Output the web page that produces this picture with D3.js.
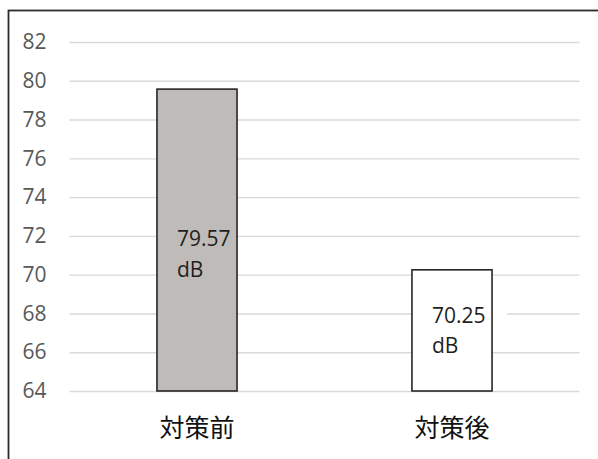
<!DOCTYPE html>
<html>
<head>
<meta charset="utf-8">
<script src="https://cdn.jsdelivr.net/npm/d3@7"></script>
<style>
  html, body { margin: 0; padding: 0; background: #fff; }
  svg { display: block; }
</style>
</head>
<body>
<svg id="chart" width="598" height="459"></svg>
<script>
// Noise level before / after countermeasures
const categories = ["対策前", "対策後"];
const levels = [79.57, 70.25];
const unit = "dB";
const yTicks = [64, 66, 68, 70, 72, 74, 76, 78, 80, 82];

const svg = d3.select("#chart");

// outer frame (right and bottom edges fall outside the view)
svg.append("rect")
  .attr("x", 8.5).attr("y", 10.5)
  .attr("width", 600).attr("height", 470)
  .attr("fill", "#fff")
  .attr("stroke", "#2b2b2b")
  .attr("stroke-width", 1.8);

const plot = { left: 69.5, right: 579.5, top: 42, bottom: 391 };

const y = d3.scaleLinear().domain([64, 82]).range([plot.bottom, plot.top]);
const x = d3.scaleBand()
  .domain(categories)
  .range([plot.left, plot.right])
  .paddingInner(0.686)
  .paddingOuter(0.343);

// y axis with gridlines
const yAxis = d3.axisLeft(y)
  .tickValues(yTicks)
  .tickFormat(d3.format("d"))
  .tickSizeInner(-(plot.right - plot.left))
  .tickSizeOuter(0)
  .tickPadding(23);

const gy = svg.append("g")
  .attr("transform", `translate(${plot.left},0)`)
  .call(yAxis);
gy.select(".domain").remove();
gy.selectAll(".tick line").attr("stroke", "#d9d9d9").attr("stroke-width", 1.4);
gy.selectAll(".tick text")
  .attr("fill", "#595959")
  .style("font-family", "'Open Sans', 'Noto Sans', sans-serif")
  .style("font-size", "21px");

// label geometry
const labelShift = [14, 0];
const labelBg = [null, "#ffffff"];
const lineGap = 30.6;
const labelPos = levels.map((v, i) => {
  const bx = x(categories[i]);
  const mid = (y(v) + y(64)) / 2 + labelShift[i];
  return { tx: bx + 20, base1: mid - lineGap / 2 + 7.5 };
});

// label backgrounds sit under the bars
svg.append("g").selectAll("rect")
  .data(levels.map((v, i) => i).filter(i => labelBg[i]))
  .join("rect")
  .attr("x", i => labelPos[i].tx - 8)
  .attr("y", i => labelPos[i].base1 - 24)
  .attr("width", x.bandwidth() + 3)
  .attr("height", 52)
  .attr("fill", i => labelBg[i]);

// bars
const barFill = ["#bfbbb8", "#ffffff"];
svg.append("g").selectAll("rect")
  .data(levels)
  .join("rect")
  .attr("x", (d, i) => x(categories[i]))
  .attr("y", d => y(d))
  .attr("width", x.bandwidth())
  .attr("height", d => y(64) - y(d))
  .attr("fill", (d, i) => barFill[i])
  .attr("stroke", "#262626")
  .attr("stroke-width", 1.6);

// value labels (two lines: value / unit)
const labels = svg.append("g");
levels.forEach((v, i) => {
  const { tx, base1 } = labelPos[i];
  const t = labels.append("text")
    .attr("fill", "#1f1f1f")
    .style("font-family", "'Open Sans', 'Noto Sans', sans-serif")
    .style("font-size", "21px");
  t.append("tspan").attr("x", tx).attr("y", base1).text(v.toFixed(2));
  t.append("tspan").attr("x", tx).attr("y", base1 + lineGap).text(unit);
});

// category axis
const xAxis = d3.axisBottom(x).tickSize(0).tickPadding(28.5);
const gx = svg.append("g")
  .attr("transform", `translate(0,${plot.bottom})`)
  .call(xAxis);
gx.select(".domain").remove();
gx.selectAll(".tick text")
  .attr("fill", "#111")
  .style("font-family", "'Noto Sans CJK JP', sans-serif")
  .style("font-size", "25px");
</script>
</body>
</html>
